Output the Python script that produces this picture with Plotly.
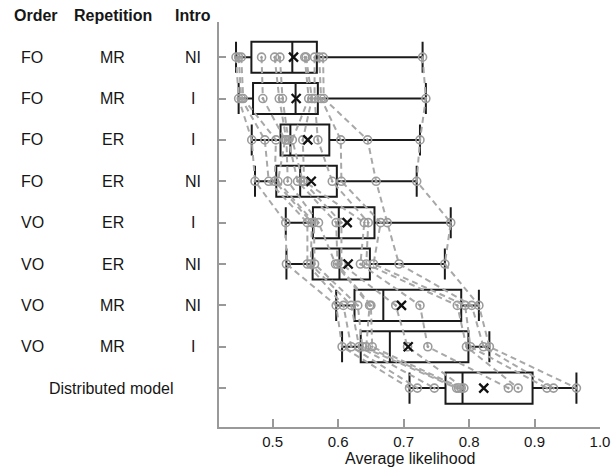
import numpy as np
import plotly.graph_objects as go

# ---- data ----
order_labels = ["FO", "FO", "FO", "FO", "VO", "VO", "VO", "VO"]
rep_labels = ["MR", "MR", "ER", "ER", "ER", "ER", "MR", "MR"]
intro_labels = ["NI", "I", "I", "NI", "I", "NI", "NI", "I"]
model_label = "Distributed model"
header_labels = ["Order", "Repetition", "Intro"]
x_title = "Average likelihood"

fo_mr_ni = [0.444, 0.448, 0.452, 0.483, 0.503, 0.511, 0.549, 0.551, 0.564, 0.571, 0.577, 0.729]
fo_mr_i = [0.448, 0.452, 0.455, 0.485, 0.510, 0.515, 0.555, 0.560, 0.564, 0.574, 0.578, 0.734]
fo_er_i = [0.468, 0.488, 0.505, 0.519, 0.521, 0.524, 0.530, 0.546, 0.569, 0.604, 0.645, 0.725]
fo_er_ni = [0.473, 0.494, 0.503, 0.508, 0.523, 0.538, 0.546, 0.548, 0.591, 0.605, 0.658, 0.720]
vo_er_i = [0.520, 0.553, 0.560, 0.563, 0.570, 0.597, 0.605, 0.640, 0.646, 0.665, 0.675, 0.772]
vo_er_ni = [0.521, 0.553, 0.558, 0.564, 0.596, 0.599, 0.605, 0.634, 0.643, 0.654, 0.693, 0.763]
vo_mr_ni = [0.597, 0.608, 0.620, 0.630, 0.648, 0.650, 0.688, 0.725, 0.782, 0.794, 0.804, 0.815]
vo_mr_i = [0.606, 0.620, 0.632, 0.637, 0.643, 0.652, 0.706, 0.737, 0.796, 0.802, 0.822, 0.831]
distributed = [0.709, 0.721, 0.747, 0.781, 0.784, 0.788, 0.792, 0.860, 0.875, 0.919, 0.929, 0.964]

rows = [fo_mr_ni, fo_mr_i, fo_er_i, fo_er_ni, vo_er_i, vo_er_ni, vo_mr_ni, vo_mr_i, distributed]
x_ticks = [0.5, 0.6, 0.7, 0.8, 0.9, 1.0]

FONT = "Liberation Sans, Arial, sans-serif"
TXT = "#161616"
GRAY_AX = "#999999"
GRAY_PT = "#9b9b9b"
FS = 16

fig = go.Figure()

# boxes
for i, vals in enumerate(rows):
    fig.add_trace(go.Box(
        x=vals, y=[i] * len(vals), orientation="h", width=0.75,
        boxpoints=False, whiskerwidth=1,
        fillcolor="rgba(0,0,0,0)",
        line=dict(color="#1a1a1a", width=2),
        showlegend=False, hoverinfo="skip",
    ))

# participant lines + points
n = len(rows[0])
for j in range(n):
    xs = [r[j] for r in rows]
    ys = list(range(len(rows)))
    fig.add_trace(go.Scatter(
        x=xs, y=ys, mode="lines+markers",
        line=dict(color="#a8a8a8", width=2, dash="6px,4px"),
        marker=dict(symbol="circle-open-dot", size=8, color=GRAY_PT,
                    line=dict(width=1.6, color=GRAY_PT)),
        showlegend=False, hoverinfo="skip",
    ))

# means
means = [float(np.mean(r)) for r in rows]
fig.add_trace(go.Scatter(
    x=means, y=list(range(len(rows))), mode="markers",
    marker=dict(symbol="x-thin", size=9, color="#111111",
                line=dict(width=2.3, color="#111111")),
    showlegend=False, hoverinfo="skip",
))

L, R, T, B = 219, 13, 22, 40
W, H = 613, 467
pw = W - L - R
ph = H - T - B

def px_to_paper(px):
    return (px - L) / pw

def py_to_paper(py):
    return (H - B - py) / ph

col_x = [32, 113, 193]
head_x = [35.7, 113.3, 193]
ann = []
for k, h in enumerate(header_labels):
    ann.append(dict(text="<b>" + h + "</b>", x=px_to_paper(head_x[k]), y=py_to_paper(15),
                    xref="paper", yref="paper", showarrow=False, xanchor="center", yanchor="middle",
                    font=dict(size=FS, color=TXT, family=FONT)))
for i in range(len(order_labels)):
    for k, lab in enumerate([order_labels[i], rep_labels[i], intro_labels[i]]):
        ann.append(dict(text=lab, x=px_to_paper(col_x[k]), y=i, xref="paper", yref="y",
                        showarrow=False, xanchor="center", yanchor="middle",
                        font=dict(size=FS, color=TXT, family=FONT)))
ann.append(dict(text=model_label, x=px_to_paper(111), y=len(rows) - 1, xref="paper", yref="y",
                showarrow=False, xanchor="center", yanchor="middle",
                font=dict(size=FS, color=TXT, family=FONT)))
ann.append(dict(text=x_title, x=0.5, y=py_to_paper(458), xref="paper", yref="paper",
                showarrow=False, xanchor="center", yanchor="middle",
                font=dict(size=FS, color=TXT, family=FONT)))

fig.update_layout(
    width=W, height=H,
    margin=dict(l=L, r=R, t=T, b=B, autoexpand=False),
    plot_bgcolor="white", paper_bgcolor="white",
    font=dict(family=FONT, size=FS, color=TXT),
    annotations=ann,
    boxmode="overlay",
    xaxis=dict(range=[0.418, 1.0], tickvals=x_ticks, tickformat=".1f",
               tickfont=dict(size=15),
               showline=True, linecolor=GRAY_AX, linewidth=2,
               ticks="inside", ticklen=8, tickwidth=2, tickcolor=GRAY_AX,
               showgrid=False, zeroline=False, automargin=False),
    yaxis=dict(range=[8.94, -0.85], tickvals=list(range(len(rows))), showticklabels=False,
               showline=True, linecolor=GRAY_AX, linewidth=2,
               ticks="inside", ticklen=7, tickwidth=1.5, tickcolor=GRAY_AX,
               showgrid=False, zeroline=False, automargin=False),
)

fig.write_html("out.html", config={"displayModeBar": False},
               post_script="document.body.style.margin='0';")
